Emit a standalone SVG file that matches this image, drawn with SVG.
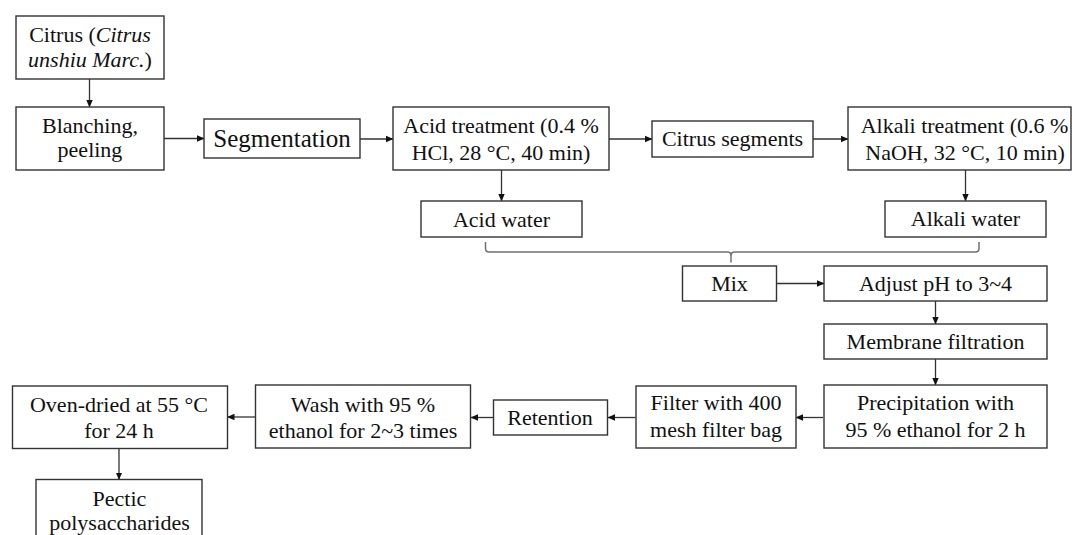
<svg xmlns="http://www.w3.org/2000/svg" width="1072" height="535" viewBox="0 0 1072 535">
<style>
.box{fill:#fff;stroke:#333;stroke-width:1.4}
.t{font-family:"Liberation Serif","Times New Roman",serif;font-size:22px;fill:#111;text-anchor:middle}
.c{fill:none;stroke:#333;stroke-width:1.3}
.br{fill:none;stroke:#707070;stroke-width:1.5}
</style>
<defs>
<marker id="ah" markerWidth="8" markerHeight="8" refX="7" refY="4" orient="auto" markerUnits="userSpaceOnUse">
<path d="M0,0.8 L7.5,4 L0,7.2 Z" fill="#111"/>
</marker>
</defs>
<rect width="1072" height="535" fill="#fff"/>
<g id="connectors">
<path class="c" d="M89.5,79 V107" marker-end="url(#ah)"/>
<path class="c" d="M164,138.5 H204" marker-end="url(#ah)"/>
<path class="c" d="M360,139 H393" marker-end="url(#ah)"/>
<path class="c" d="M609,139 H652" marker-end="url(#ah)"/>
<path class="c" d="M813,139 H848" marker-end="url(#ah)"/>
<path class="c" d="M501.5,170 V201" marker-end="url(#ah)"/>
<path class="c" d="M965.5,170 V201" marker-end="url(#ah)"/>
<path class="br" d="M485.5,242 V248.5 Q485.5,252 489,252 H727.5 Q731,252 731,255.5 V262.5"/>
<path class="br" d="M979,242 V248.5 Q979,252 975.5,252 H734.5 Q731,252 731,255.5"/>
<path class="c" d="M777,283.5 H824" marker-end="url(#ah)"/>
<path class="c" d="M935.5,301 V324" marker-end="url(#ah)"/>
<path class="c" d="M935.5,359 V385" marker-end="url(#ah)"/>
<path class="c" d="M823,417.5 H796" marker-end="url(#ah)"/>
<path class="c" d="M635.5,417.5 H608" marker-end="url(#ah)"/>
<path class="c" d="M493.5,417.5 H471" marker-end="url(#ah)"/>
<path class="c" d="M255.5,417 H227.5" marker-end="url(#ah)"/>
<path class="c" d="M119,448.5 V479.5" marker-end="url(#ah)"/>
</g>
<g id="citrus">
<rect class="box" x="16" y="16" width="148" height="63"/>
<text class="t" x="90" y="42">Citrus (<tspan font-style="italic">Citrus</tspan></text>
<text class="t" x="90" y="67"><tspan font-style="italic">unshiu Marc.</tspan>)</text>
</g>
<g id="blanching">
<rect class="box" x="16" y="107" width="148" height="63"/>
<text class="t" x="90" y="133">Blanching,</text>
<text class="t" x="90" y="157">peeling</text>
</g>
<g id="segmentation">
<rect class="box" x="204" y="119" width="156" height="39"/>
<text class="t" x="282" y="147" style="font-size:25px">Segmentation</text>
</g>
<g id="acid-treatment">
<rect class="box" x="393" y="107" width="216" height="63"/>
<text class="t" x="501" y="133">Acid treatment (0.4 %</text>
<text class="t" x="501" y="160">HCl, 28 °C, 40 min)</text>
</g>
<g id="citrus-segments">
<rect class="box" x="652" y="121" width="161" height="36"/>
<text class="t" x="732.5" y="146">Citrus segments</text>
</g>
<g id="alkali-treatment">
<rect class="box" x="848" y="107" width="223" height="63"/>
<text class="t" x="964.5" y="133">Alkali treatment (0.6 %</text>
<text class="t" x="965" y="160">NaOH, 32 °C, 10 min)</text>
</g>
<g id="acid-water">
<rect class="box" x="421" y="201" width="161" height="36"/>
<text class="t" x="501.5" y="226.5">Acid water</text>
</g>
<g id="alkali-water">
<rect class="box" x="885" y="201" width="161" height="36"/>
<text class="t" x="965.5" y="226">Alkali water</text>
</g>
<g id="mix">
<rect class="box" x="682.5" y="266" width="94" height="35"/>
<text class="t" x="729.5" y="291">Mix</text>
</g>
<g id="adjust-ph">
<rect class="box" x="824" y="266" width="223" height="35"/>
<text class="t" x="935.5" y="291">Adjust pH to 3~4</text>
</g>
<g id="membrane">
<rect class="box" x="824" y="324" width="223" height="35"/>
<text class="t" x="935.5" y="349">Membrane filtration</text>
</g>
<g id="precipitation">
<rect class="box" x="824" y="385" width="223" height="63"/>
<text class="t" x="935.5" y="410">Precipitation with</text>
<text class="t" x="935.5" y="437">95 % ethanol for 2 h</text>
</g>
<g id="filter">
<rect class="box" x="636" y="386" width="160" height="62"/>
<text class="t" x="716" y="410">Filter with 400</text>
<text class="t" x="716" y="437">mesh filter bag</text>
</g>
<g id="retention">
<rect class="box" x="493.5" y="400" width="114" height="35"/>
<text class="t" x="550" y="424.5">Retention</text>
</g>
<g id="wash">
<rect class="box" x="255.5" y="385" width="215" height="63"/>
<text class="t" x="363" y="411.5">Wash with 95 %</text>
<text class="t" x="363" y="437.5">ethanol for 2~3 times</text>
</g>
<g id="oven">
<rect class="box" x="12.5" y="386" width="215" height="62.5"/>
<text class="t" x="119" y="411.5">Oven-dried at 55 °C</text>
<text class="t" x="119" y="438">for 24 h</text>
</g>
<g id="pectic">
<rect class="box" x="36" y="479.5" width="166" height="70"/>
<text class="t" x="119.5" y="506">Pectic</text>
<text class="t" x="119.5" y="530">polysaccharides</text>
</g>
</svg>
